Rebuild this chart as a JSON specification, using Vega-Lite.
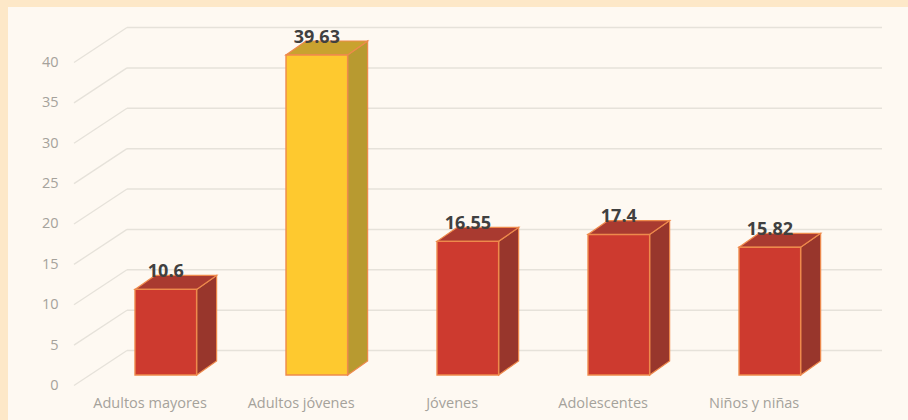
{
"$schema":"https://vega.github.io/schema/vega-lite/v6.json",
"width":900,"height":413,"autosize":{"type":"none"},
"padding":{"left":8,"top":7,"right":0,"bottom":0},
"background":"#fde8c8",
"view":{"fill":"#fef9f2","stroke":null},
"resolve":{"axis":{"y":"independent"}},
"datasets":{
"bars":[
{"cat":"Adultos mayores","i":1,"value":10.6},
{"cat":"Adultos jóvenes","i":2,"value":39.63},
{"cat":"Jóvenes","i":3,"value":16.55},
{"cat":"Adolescentes","i":4,"value":17.4},
{"cat":"Niños y niñas","i":5,"value":15.82}],
"grid":[{"v":0},{"v":5},{"v":10},{"v":15},{"v":20},{"v":25},{"v":30},{"v":35},{"v":40}]
},
"layer":[
{"data":{"name":"grid"},"transform":[{"calculate":"datum.v+4.33","as":"vb"}],
 "mark":{"type":"rule","stroke":"#e6e2da","strokeWidth":1.3},
 "encoding":{
 "x":{"datum":0.392,"type":"quantitative","scale":{"domain":[-0.045,5.915],"nice":false,"zero":false},"axis":null},
 "x2":{"datum":0.743},
 "y":{"field":"v","type":"quantitative","scale":{"domain":[-4.27,46.87],"nice":false,"zero":false},
   "axis":{"values":[0,5,10,15,20,25,30,35,40],"title":null,"grid":false,"domain":false,"ticks":false,"offset":-50,"labelPadding":0,"labelFont":"Open Sans","labelFontSize":14.5,"labelColor":"#a5a29b"}},
 "y2":{"field":"vb"}}},
{"data":{"name":"grid"},"transform":[{"calculate":"datum.v+4.33","as":"vb"}],
 "mark":{"type":"rule","stroke":"#e6e2da","strokeWidth":1.5},
 "encoding":{
 "x":{"datum":0.743,"type":"quantitative","scale":{"domain":[-0.045,5.915],"nice":false,"zero":false},"axis":null},
 "x2":{"datum":5.743},
 "y":{"field":"vb","type":"quantitative","scale":{"domain":[-4.27,46.87],"nice":false,"zero":false},"axis":null}}},
{"data":{"name":"bars"},"transform":[
  {"calculate":"[0,1]","as":"s"},{"flatten":["s"]},
  {"calculate":"datum.i+0.204+datum.s*0.1325","as":"xs"},
  {"calculate":"datum.value+1.3+datum.s*1.73","as":"yt"},
  {"calculate":"1.3+datum.s*1.73","as":"yb"}],
 "mark":{"type":"area","orient":"vertical","stroke":"#ee8a4c","strokeWidth":1.2,"opacity":1},
 "encoding":{
 "x":{"field":"xs","type":"quantitative","scale":{"domain":[-0.045,5.915],"nice":false,"zero":false},"axis":null},
 "y":{"field":"yt","type":"quantitative","scale":{"domain":[-4.27,46.87],"nice":false,"zero":false},"axis":null},
 "y2":{"field":"yb"},
 "detail":{"field":"cat"},
 "fill":{"condition":{"test":"datum.cat==='Adultos jóvenes'","value":"#b89a30"},"value":"#98362c"}}},
{"data":{"name":"bars"},"transform":[
  {"calculate":"[0,1]","as":"s"},{"flatten":["s"]},
  {"calculate":"datum.i-0.204+datum.s*0.1325","as":"xl"},
  {"calculate":"datum.i+0.204+datum.s*0.1325","as":"xr"},
  {"calculate":"datum.value+1.3+datum.s*1.73","as":"yt"}],
 "mark":{"type":"area","orient":"horizontal","stroke":"#ee8a4c","strokeWidth":1.2,"opacity":1},
 "encoding":{
 "y":{"field":"yt","type":"quantitative","scale":{"domain":[-4.27,46.87],"nice":false,"zero":false},"axis":null},
 "x":{"field":"xl","type":"quantitative","scale":{"domain":[-0.045,5.915],"nice":false,"zero":false},"axis":null},
 "x2":{"field":"xr"},
 "detail":{"field":"cat"},
 "fill":{"condition":{"test":"datum.cat==='Adultos jóvenes'","value":"#c9a22f"},"value":"#a93a30"}}},
{"data":{"name":"bars"},"transform":[
  {"calculate":"datum.i-0.204","as":"xl"},
  {"calculate":"datum.i+0.204","as":"xr"},
  {"calculate":"datum.value+1.3","as":"yt"},
  {"calculate":"1.3","as":"yb"}],
 "mark":{"type":"rect","stroke":"#ee8a4c","strokeWidth":1.4},
 "encoding":{
 "x":{"field":"xl","type":"quantitative","scale":{"domain":[-0.045,5.915],"nice":false,"zero":false},"axis":null},
 "x2":{"field":"xr"},
 "y":{"field":"yt","type":"quantitative","scale":{"domain":[-4.27,46.87],"nice":false,"zero":false},"axis":null},
 "y2":{"field":"yb"},
 "fill":{"condition":{"test":"datum.cat==='Adultos jóvenes'","value":"#fec92f"},"value":"#cd3a2f"}}},
{"data":{"name":"bars"},"transform":[{"calculate":"datum.value+1.3","as":"yt"}],
 "mark":{"type":"text","font":"Open Sans","fontWeight":"bold","fontSize":18,"color":"#404040","yOffset":-17,"baseline":"middle"},
 "encoding":{
 "x":{"field":"i","type":"quantitative","scale":{"domain":[-0.045,5.915],"nice":false,"zero":false},"axis":null},
 "y":{"field":"yt","type":"quantitative","scale":{"domain":[-4.27,46.87],"nice":false,"zero":false},"axis":null},
 "text":{"field":"value","type":"quantitative"}}},
{"data":{"name":"bars"},"transform":[{"calculate":"datum.i-0.104","as":"xc"}],
 "mark":{"type":"text","font":"Open Sans","fontSize":14.5,"color":"#a5a29b","baseline":"middle"},
 "encoding":{
 "x":{"field":"xc","type":"quantitative","scale":{"domain":[-0.045,5.915],"nice":false,"zero":false},"axis":null},
 "y":{"datum":-2.29,"type":"quantitative","scale":{"domain":[-4.27,46.87],"nice":false,"zero":false},"axis":null},
 "text":{"field":"cat","type":"nominal"}}}
]
}
